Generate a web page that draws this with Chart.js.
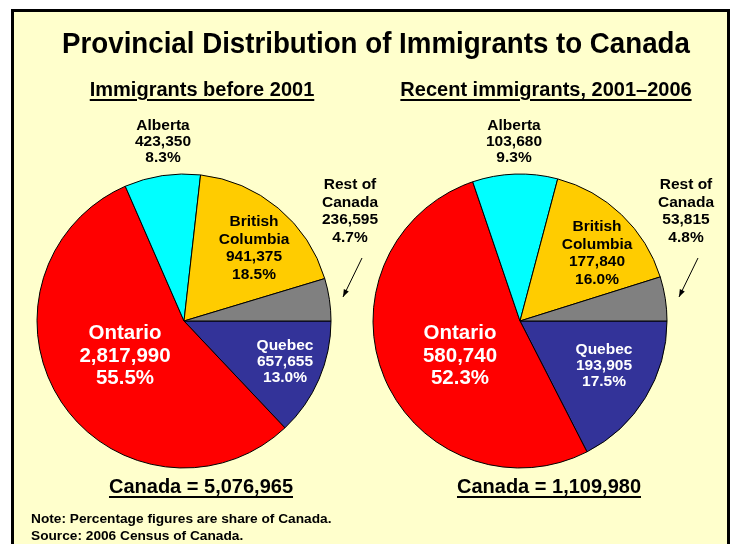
<!DOCTYPE html>
<html>
<head>
<meta charset="utf-8">
<script src="https://cdn.jsdelivr.net/npm/chart.js@4"></script>
<style>
  body { margin: 0; width: 735px; height: 544px; overflow: hidden; background: #fff; position: relative; }
  #frame { position: absolute; left: 11px; top: 9px; width: 713px; height: 560px; border: 3px solid #000; background: #FFFFCC; }
  canvas { position: absolute; left: 0; top: 0; }
  .txt { position: absolute; font-family: "Liberation Sans", Arial, sans-serif; font-weight: bold; color: #000; white-space: nowrap; }
  .c { transform: translateX(-50%); }
  .u { text-decoration: underline; text-decoration-thickness: 2px; text-underline-offset: 3px; }
</style>
</head>
<body>
<div id="frame"></div>
<canvas id="pie1" width="735" height="544"></canvas>
<canvas id="pie2" width="735" height="544"></canvas>

<div class="txt" style="left:376px; top:27px; font-size:29px; transform: translateX(-50%) scaleX(0.955);">Provincial Distribution of Immigrants to Canada</div>
<div class="txt c u" style="left:202px; top:78px; font-size:20px;">Immigrants before 2001</div>
<div class="txt c u" style="left:546px; top:78px; font-size:20px;">Recent immigrants, 2001–2006</div>
<div class="txt c u" style="left:201px; top:475px; font-size:20px;">Canada = 5,076,965</div>
<div class="txt c u" style="left:549px; top:475px; font-size:20px;">Canada = 1,109,980</div>
<div class="txt" style="left:31px; top:511px; font-size:13.7px;">Note: Percentage figures are share of Canada.</div>
<div class="txt" style="left:31px; top:528px; font-size:13.7px;">Source: 2006 Census of Canada.</div>

<script>
// Dados (Censo 2006) - ordem horaria a partir das 3 horas
var provincias = ['Quebec', 'Ontario', 'Alberta', 'British Columbia', 'Rest of Canada'];
var nomesLinhas = [['Quebec'], ['Ontario'], ['Alberta'], ['British', 'Columbia'], ['Rest of', 'Canada']];
var antes2001 = [657655, 2817990, 423350, 941375, 236595];
var recentes = [193905, 580740, 103680, 177840, 53815];
var cores = ['#333399', '#FF0000', '#00FFFF', '#FFCC00', '#808080'];

// estilo dos rotulos: cor, tamanho, altura da linha
var estiloRotulo = [
    { cor: '#fff', tam: 15.5, lh: 16 },
    { cor: '#fff', tam: 20.5, lh: 22.5 },
    { cor: '#000', tam: 15.5, lh: 16 },
    { cor: '#000', tam: 15.5, lh: 17.5 },
    { cor: '#000', tam: 15.5, lh: 17.5 }
];

// posicao do centro do bloco de texto em relacao ao centro da pizza
var posRotulos1 = [[101, 41], [-59, 35], [-21, -179], [70, -73], [166, -110]];
var posRotulos2 = [[84, 45], [-60, 35], [-6, -179], [77, -68], [166, -110]];
var seta = [[178, -63], [159, -24]];

function formata(n) {
    return n.toString().replace(/\B(?=(\d{3})+(?!\d))/g, ',');
}

var pluginRotulos = {
    id: 'rotulos',
    afterDatasetsDraw: function (chart, args, opts) {
        var ctx = chart.ctx;
        var meta = chart.getDatasetMeta(0);
        var dados = chart.data.datasets[0].data;
        var total = dados.reduce(function (a, b) { return a + b; }, 0);
        var cx = meta.data[0].x;
        var cy = meta.data[0].y;
        ctx.save();
        ctx.textAlign = 'center';
        ctx.textBaseline = 'middle';
        for (var i = 0; i < dados.length; i++) {
            var linhas = nomesLinhas[i].concat([formata(dados[i]), (dados[i] / total * 100).toFixed(1) + '%']);
            var est = estiloRotulo[i];
            ctx.fillStyle = est.cor;
            ctx.font = 'bold ' + est.tam + 'px "Liberation Sans", Arial, sans-serif';
            var p = opts.pos[i];
            var y0 = cy + p[1] - (linhas.length - 1) * est.lh / 2;
            for (var j = 0; j < linhas.length; j++) {
                ctx.fillText(linhas[j], cx + p[0], y0 + j * est.lh);
            }
        }
        // seta para "Rest of Canada"
        var x1 = cx + seta[0][0], y1 = cy + seta[0][1];
        var x2 = cx + seta[1][0], y2 = cy + seta[1][1];
        ctx.strokeStyle = '#000';
        ctx.fillStyle = '#000';
        ctx.lineWidth = 1;
        ctx.beginPath();
        ctx.moveTo(x1, y1);
        ctx.lineTo(x2, y2);
        ctx.stroke();
        var ang = Math.atan2(y2 - y1, x2 - x1);
        ctx.beginPath();
        ctx.moveTo(x2, y2);
        ctx.lineTo(x2 - 8 * Math.cos(ang - 0.35), y2 - 8 * Math.sin(ang - 0.35));
        ctx.lineTo(x2 - 8 * Math.cos(ang + 0.35), y2 - 8 * Math.sin(ang + 0.35));
        ctx.closePath();
        ctx.fill();
        ctx.restore();
    }
};

function criaPizza(id, valores, padding, pos) {
    var ctx = document.getElementById(id);
    return new Chart(ctx, {
        type: 'pie',
        data: {
            labels: provincias,
            datasets: [{
                data: valores,
                backgroundColor: cores,
                borderColor: '#000',
                borderWidth: 1
            }]
        },
        options: {
            responsive: false,
            animation: false,
            rotation: 90,
            radius: 147,
            layout: { padding: padding },
            events: [],
            plugins: {
                legend: { display: false },
                tooltip: { enabled: false },
                rotulos: { pos: pos }
            }
        },
        plugins: [pluginRotulos]
    });
}

// centro 1 = (184, 321); centro 2 = (520, 321)
criaPizza('pie1', antes2001, { left: 0, right: 367, top: 98, bottom: 0 }, posRotulos1);
criaPizza('pie2', recentes, { left: 305, right: 0, top: 98, bottom: 0 }, posRotulos2);
</script>
</body>
</html>
